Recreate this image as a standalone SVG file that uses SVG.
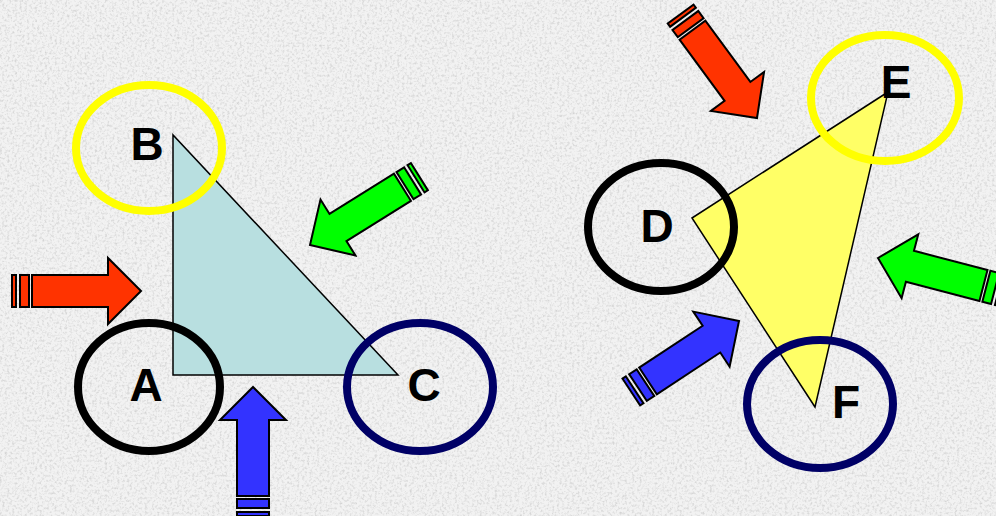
<svg xmlns="http://www.w3.org/2000/svg" width="996" height="516" viewBox="0 0 996 516">
<style>
.lbl{font-family:"Liberation Sans",Arial,sans-serif;font-weight:bold;font-size:46px;fill:#000;text-anchor:middle}
.ring{fill:none;stroke-width:8}
.tri{stroke:#000;stroke-width:1.5}
.arr{stroke:#000;stroke-width:2;stroke-linejoin:miter}
</style>
<defs>
<filter id="grain" x="0" y="0" width="100%" height="100%">
<feTurbulence type="fractalNoise" baseFrequency="0.4" numOctaves="3" seed="4"/>
<feColorMatrix type="matrix" values="0 0 0 0 0.6  0 0 0 0 0.6  0 0 0 0 0.6  0 0 0 -2.5 1.35"/>
</filter>
<g id="arrow">
<polygon points="0,0 -33,-33 -33,-16 -109,-16 -109,16 -33,16 -33,33"/>
<rect x="-121" y="-16" width="9" height="32"/>
<rect x="-129" y="-16" width="4" height="32"/>
</g>
</defs>
<rect width="996" height="516" fill="#f2f2f2"/>
<rect width="996" height="516" filter="url(#grain)" opacity="0.75"/>

<g id="triangle-abc"><polygon class="tri" points="173,135 173,375 398,375" fill="#b8dfe0"/></g>
<g id="triangle-def"><polygon class="tri" points="692,218 888,92 815,407" fill="#ffff66"/></g>

<g id="connectors">
<use href="#arrow" class="arr" fill="#ff3300" transform="translate(141,291)"/>
<use href="#arrow" class="arr" fill="#3333ff" transform="translate(253,387) rotate(-90)"/>
<use href="#arrow" class="arr" fill="#00ff00" transform="translate(310,245) rotate(148)"/>
<use href="#arrow" class="arr" fill="#ff3300" transform="translate(757,118) rotate(53.7)"/>
<use href="#arrow" class="arr" fill="#00ff00" transform="translate(878,258) rotate(194.6)"/>
<use href="#arrow" class="arr" fill="#3333ff" transform="translate(739,321) rotate(-33.4)"/>
</g>

<g id="node-b"><ellipse class="ring" cx="149" cy="148" rx="73" ry="63" stroke="#ffff00"/><text class="lbl" x="147" y="160">B</text></g>
<g id="node-a"><ellipse class="ring" cx="149" cy="387" rx="71" ry="64" stroke="#000"/><text class="lbl" x="146" y="401">A</text></g>
<g id="node-c"><ellipse class="ring" cx="420" cy="387" rx="73" ry="64" stroke="#000066"/><text class="lbl" x="424" y="401">C</text></g>
<g id="node-e"><ellipse class="ring" cx="885" cy="98" rx="74" ry="63" stroke="#ffff00"/><text class="lbl" x="896" y="98">E</text></g>
<g id="node-d"><ellipse class="ring" cx="661" cy="227" rx="73" ry="64" stroke="#000"/><text class="lbl" x="657" y="242">D</text></g>
<g id="node-f"><ellipse class="ring" cx="820" cy="404" rx="73" ry="64" stroke="#000066"/><text class="lbl" x="846" y="418">F</text></g>
</svg>
